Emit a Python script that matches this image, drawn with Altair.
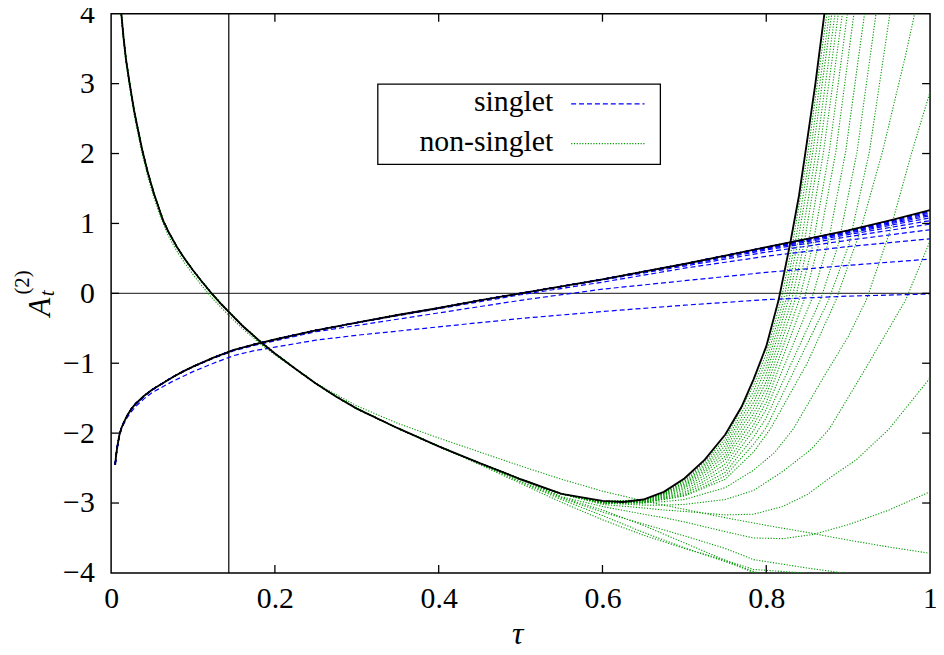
import altair as alt
import pandas as pd

FONT = "Liberation Serif"
BLUE = "#0000ff"
GREEN = "#009a00"

X_TICKS = [0, 0.2, 0.4, 0.6, 0.8, 1]
Y_TICKS = [-4, -3, -2, -1, 0, 1, 2, 3, 4]
VLINE_X = 0.1437
LEGEND_LABELS = ["singlet", "non-singlet"]

# ---------------- singlet (exact, black) ----------------
s_head = [(0.005, -2.45), (0.006, -2.33), (0.0075, -2.2), (0.01, -2.03), (0.0125, -1.93),
          (0.015, -1.86), (0.02, -1.74), (0.025, -1.65), (0.03, -1.58), (0.04, -1.47),
          (0.05, -1.38), (0.0625, -1.29), (0.075, -1.20), (0.0875, -1.12), (0.1, -1.05)]
s_mid = [(0.125, -0.92), (0.15, -0.81), (0.175, -0.73), (0.2, -0.66), (0.25, -0.53), (0.3, -0.42),
         (0.35, -0.31), (0.4, -0.21), (0.45, -0.10), (0.5, 0.0)]
s_tail = [(0.55, 0.10), (0.6, 0.20), (0.65, 0.31), (0.7, 0.42), (0.75, 0.54), (0.8, 0.66),
          (0.85, 0.78), (0.9, 0.90), (0.95, 1.04), (1.0, 1.19)]

# ---------------- singlet truncations (blue dashed) ----------------
b1 = [(0.005, -2.45), (0.006, -2.33), (0.0075, -2.21), (0.01, -2.05), (0.0125, -1.95), (0.015, -1.88),
      (0.02, -1.77), (0.025, -1.69), (0.03, -1.62), (0.04, -1.51), (0.05, -1.42), (0.0625, -1.34),
      (0.075, -1.26), (0.0875, -1.19), (0.1, -1.12), (0.125, -1.0), (0.15, -0.89), (0.175, -0.82),
      (0.2, -0.77), (0.25, -0.67), (0.3, -0.60), (0.4, -0.48), (0.5, -0.36), (0.6, -0.26),
      (0.7, -0.17), (0.8, -0.09), (0.9, -0.04), (1.0, -0.01)]
b2_tail = [(0.125, -0.93), (0.15, -0.82), (0.175, -0.745), (0.2, -0.68), (0.25, -0.55), (0.3, -0.46),
           (0.4, -0.28), (0.5, -0.10), (0.6, 0.06), (0.7, 0.18), (0.8, 0.30), (0.9, 0.40), (1.0, 0.49)]
b3_tail = [(0.4, -0.22), (0.5, -0.02), (0.6, 0.16), (0.7, 0.36), (0.8, 0.53), (0.9, 0.67), (1.0, 0.78)]
b4_tail = [(0.6, 0.19), (0.7, 0.39), (0.8, 0.59), (0.9, 0.76), (1.0, 0.91)]
b5_tail = [(0.7, 0.405), (0.8, 0.62), (0.9, 0.81), (1.0, 0.99)]
b6_tail = [(0.8, 0.635), (0.9, 0.84), (1.0, 1.04)]
b7_tail = [(0.8, 0.645), (0.9, 0.86), (1.0, 1.08)]
b8_tail = [(0.8, 0.652), (0.9, 0.87), (1.0, 1.11)]
b9_tail = [(0.9, 0.88), (1.0, 1.13)]
b10_tail = [(0.9, 0.885), (1.0, 1.15)]
b11_tail = [(0.9, 0.893), (1.0, 1.165)]
b12_tail = [(0.9, 0.897), (1.0, 1.175)]

# ---------------- non-singlet (exact, black) ----------------
ns_head = [(0.0105, 4.35), (0.0125, 4.0), (0.015, 3.68), (0.018, 3.36), (0.0226, 3.0), (0.028, 2.62),
           (0.033, 2.33), (0.038, 2.05), (0.045, 1.72), (0.052, 1.44), (0.06, 1.16), (0.064, 1.03),
           (0.07, 0.88), (0.08, 0.67), (0.09, 0.49), (0.1, 0.33), (0.11, 0.18), (0.1227, 0.0),
           (0.135, -0.16), (0.144, -0.27), (0.16, -0.46), (0.183, -0.70), (0.2, -0.86), (0.225, -1.08),
           (0.25, -1.29), (0.275, -1.48), (0.3, -1.65), (0.35, -1.93), (0.4, -2.19)]
ns_mid = [(0.45, -2.43), (0.5, -2.66), (0.55, -2.87)]
ns_tail = [(0.6, -2.97), (0.625, -2.985), (0.65, -2.95), (0.675, -2.84), (0.7, -2.65),
           (0.725, -2.38), (0.75, -2.02), (0.77, -1.62), (0.7845, -1.23), (0.8, -0.76),
           (0.815, -0.10), (0.829, 0.70), (0.84, 1.40), (0.848, 2.03), (0.86, 3.0),
           (0.871, 4.0), (0.875, 4.4)]

# ---------------- non-singlet truncations (green dotted) ----------------
g1 = [(0.0105, 4.3), (0.0125, 3.96), (0.015, 3.64), (0.018, 3.31), (0.0226, 2.95), (0.028, 2.56),
      (0.033, 2.27), (0.038, 1.99), (0.045, 1.66), (0.052, 1.38), (0.06, 1.10), (0.07, 0.82),
      (0.08, 0.61), (0.09, 0.43), (0.1, 0.27), (0.11, 0.12), (0.1227, -0.06), (0.135, -0.21),
      (0.144, -0.32), (0.16, -0.50), (0.183, -0.73), (0.2, -0.88), (0.25, -1.29), (0.3, -1.61),
      (0.35, -1.86), (0.4, -2.07), (0.45, -2.27), (0.5, -2.47), (0.55, -2.66), (0.6, -2.83),
      (0.65, -2.97), (0.7, -3.09), (0.75, -3.21), (0.8, -3.32), (0.85, -3.42), (0.9, -3.53),
      (0.95, -3.63), (1.0, -3.72)]
g2_tail = [(0.45, -2.44), (0.5, -2.69), (0.55, -2.93), (0.6, -3.13), (0.65, -3.30), (0.7, -3.47),
           (0.75, -3.65), (0.7845, -3.81), (0.85, -3.93), (0.8935, -4.0), (0.93, -4.04)]
g3_tail = [(0.45, -2.45), (0.5, -2.72), (0.55, -2.99), (0.6, -3.24), (0.65, -3.46), (0.7, -3.65),
           (0.75, -3.82), (0.7845, -3.95), (0.845, -4.0), (0.88, -4.03)]
g4_tail = [(0.5, -2.70), (0.55, -2.95), (0.6, -3.18), (0.65, -3.42), (0.7, -3.64), (0.75, -3.84),
           (0.79, -4.0), (0.82, -4.12)]
g5_tail = [(0.55, -2.92), (0.6, -3.10), (0.65, -3.32), (0.7, -3.57), (0.75, -3.82), (0.785, -4.0),
           (0.81, -4.12)]
d1_tail = [(0.6, -2.975), (0.65, -2.955), (0.675, -2.85), (0.7, -2.67), (0.725, -2.41), (0.75, -2.08),
           (0.7845, -1.32), (0.8, -0.86), (0.818, -0.10), (0.832, 0.70), (0.851, 2.03), (0.874, 4.0), (0.878, 4.4)]
d2_tail = [(0.6, -2.98), (0.65, -2.96), (0.675, -2.86), (0.7, -2.69), (0.725, -2.44), (0.75, -2.13),
           (0.7845, -1.40), (0.8, -0.96), (0.821, -0.10), (0.835, 0.70), (0.854, 2.03), (0.877, 4.0), (0.881, 4.4)]
d3_tail = [(0.6, -2.98), (0.65, -2.96), (0.675, -2.865), (0.7, -2.71), (0.725, -2.47), (0.75, -2.18),
           (0.7845, -1.48), (0.8, -1.06), (0.824, -0.10), (0.838, 0.70), (0.857, 2.03), (0.880, 4.0), (0.884, 4.4)]
d4_tail = [(0.6, -2.985), (0.65, -2.965), (0.675, -2.87), (0.7, -2.73), (0.725, -2.50), (0.75, -2.23),
           (0.7845, -1.56), (0.8, -1.16), (0.827, -0.10), (0.842, 0.70), (0.861, 2.03), (0.884, 4.0), (0.888, 4.4)]
d5_tail = [(0.6, -2.99), (0.65, -2.97), (0.675, -2.88), (0.7, -2.75), (0.725, -2.53), (0.75, -2.28),
           (0.7845, -1.64), (0.8, -1.26), (0.831, -0.10), (0.846, 0.70), (0.865, 2.03), (0.888, 4.0), (0.892, 4.4)]
d6_tail = [(0.6, -2.99), (0.65, -2.975), (0.675, -2.89), (0.7, -2.77), (0.725, -2.56), (0.75, -2.33),
           (0.7845, -1.72), (0.8, -1.36), (0.835, -0.10), (0.851, 0.70), (0.870, 2.03), (0.893, 4.0), (0.897, 4.4)]
d7_tail = [(0.6, -2.995), (0.65, -2.98), (0.675, -2.90), (0.7, -2.79), (0.725, -2.60), (0.75, -2.38),
           (0.7845, -1.80), (0.8, -1.46), (0.840, -0.10), (0.857, 0.70), (0.877, 2.03), (0.899, 4.0), (0.903, 4.4)]
d8_tail = [(0.6, -2.995), (0.65, -2.985), (0.675, -2.91), (0.7, -2.82), (0.725, -2.64), (0.75, -2.44),
           (0.7845, -1.88), (0.8, -1.56), (0.846, -0.10), (0.864, 0.70), (0.885, 2.03), (0.907, 4.0), (0.911, 4.4)]
d9_tail = [(0.6, -3.0), (0.65, -2.99), (0.675, -2.92), (0.7, -2.85), (0.725, -2.68), (0.75, -2.50),
           (0.7845, -1.96), (0.8, -1.66), (0.855, -0.10), (0.875, 0.70), (0.897, 2.03), (0.920, 4.0), (0.925, 4.4)]
d10_tail = [(0.6, -3.0), (0.65, -2.995), (0.675, -2.93), (0.7, -2.87), (0.725, -2.72), (0.75, -2.56),
            (0.7845, -2.06), (0.8, -1.78), (0.866, -0.10), (0.888, 0.70), (0.911, 2.03), (0.934, 4.0), (0.939, 4.4)]
d11_tail = [(0.6, -3.0), (0.65, -3.0), (0.675, -2.94), (0.7, -2.89), (0.725, -2.76), (0.75, -2.61),
            (0.7845, -2.16), (0.8, -1.92), (0.876, -0.10), (0.901, 0.70), (0.926, 2.03), (0.951, 4.0), (0.957, 4.4)]
bp_tail = [(0.6, -3.0), (0.65, -2.99), (0.675, -2.95), (0.7, -2.90), (0.75, -2.66), (0.7845, -2.27),
           (0.805, -1.94), (0.85, -1.0), (0.885, -0.10), (0.915, 0.9), (0.942, 2.03), (0.97, 3.4), (0.983, 4.1)]
c_tail = [(0.6, -3.0), (0.65, -3.0), (0.675, -2.98), (0.7, -2.95), (0.75, -2.78), (0.7845, -2.53),
          (0.81, -2.28), (0.833, -1.94), (0.87, -1.2), (0.9, -0.62), (0.922, -0.10), (0.95, 0.85),
          (0.978, 2.03), (1.0, 2.88)]
cd_tail = [(0.6, -3.0), (0.65, -3.03), (0.675, -3.03), (0.7, -3.02), (0.75, -2.95), (0.7845, -2.82),
           (0.82, -2.55), (0.855, -2.23), (0.877, -1.94), (0.92, -1.1), (0.97, -0.10), (1.0, 0.75)]
e_tail = [(0.6, -3.02), (0.65, -3.07), (0.675, -3.10), (0.7, -3.12), (0.75, -3.17), (0.7845, -3.16),
          (0.82, -3.05), (0.85, -2.88), (0.88, -2.62), (0.91, -2.38), (0.95, -1.94), (1.0, -1.21)]
f_tail = [(0.55, -2.91), (0.6, -3.05), (0.65, -3.16), (0.675, -3.21), (0.7, -3.27), (0.75, -3.41),
          (0.7845, -3.50), (0.82, -3.51), (0.857, -3.45), (0.9, -3.31), (0.95, -3.10), (1.0, -2.84)]

exact_curves = {
    "singlet": s_head + s_mid + s_tail,
    "nonsinglet": ns_head + ns_mid + ns_tail,
}
blue_curves = {
    "b1": b1,
    "b2": s_head + b2_tail,
    "b3": s_head + s_mid[:6] + b3_tail,
    "b4": s_head + s_mid + b4_tail,
    "b5": s_head + s_mid + s_tail[:2] + b5_tail,
    "b6": s_head + s_mid + s_tail[:4] + b6_tail,
    "b7": s_head + s_mid + s_tail[:5] + b7_tail,
    "b8": s_head + s_mid + s_tail[:5] + b8_tail,
    "b9": s_head + s_mid + s_tail[:6] + b9_tail,
    "b10": s_head + s_mid + s_tail[:6] + b10_tail,
    "b11": s_head + s_mid + s_tail[:7] + b11_tail,
    "b12": s_head + s_mid + s_tail[:7] + b12_tail,
}
up = ns_head + ns_mid
green_curves = {
    "g1": g1,
    "g2": ns_head + g2_tail,
    "g3": ns_head + g3_tail,
    "g4": ns_head + ns_mid[:1] + g4_tail,
    "g5": ns_head + ns_mid[:2] + g5_tail,
    "d1": up + d1_tail, "d2": up + d2_tail, "d3": up + d3_tail, "d4": up + d4_tail,
    "d5": up + d5_tail, "d6": up + d6_tail, "d7": up + d7_tail, "d8": up + d8_tail,
    "d9": up + d9_tail, "d10": up + d10_tail, "d11": up + d11_tail,
    "bp": up + bp_tail, "c": up + c_tail, "cd": up + cd_tail, "e": up + e_tail,
    "f": ns_head + ns_mid[:2] + f_tail,
}


def table(curves):
    rows = []
    for name, pts in curves.items():
        for i, (x, y) in enumerate(pts):
            rows.append({"curve": name, "x": x, "y": y, "i": i})
    return pd.DataFrame(rows)


W, H = 826, 564
xs = alt.Scale(domain=[0, 1], nice=False, zero=False)
ys = alt.Scale(domain=[-4, 4], nice=False, zero=False)

x_axis = alt.Axis(values=X_TICKS, format="~g", labelPadding=11, title=None,
                  labelFlush=False, labelOverlap=False)
y_axis = alt.Axis(values=Y_TICKS, labelPadding=17, title=None,
                  labelFlush=False, labelOverlap=False)


def X(field="x"):
    return alt.X(f"{field}:Q", scale=xs, axis=x_axis)


def Y(field="y"):
    return alt.Y(f"{field}:Q", scale=ys, axis=y_axis)


greens = alt.Chart(table(green_curves)).mark_line(
    clip=True, color=GREEN, strokeWidth=1.1, strokeDash=[1.2, 1.6]
).encode(x=X(), y=Y(), detail="curve:N", order="i:Q")
blues = alt.Chart(table(blue_curves)).mark_line(
    clip=True, color=BLUE, strokeWidth=1.2, strokeDash=[5, 3]
).encode(x=X(), y=Y(), detail="curve:N", order="i:Q")
blacks = alt.Chart(table(exact_curves)).mark_line(
    clip=True, color="black", strokeWidth=1.9
).encode(x=X(), y=Y(), detail="curve:N", order="i:Q")

zero_line = alt.Chart(pd.DataFrame({"y": [0]})).mark_rule(color="#444444", strokeWidth=1.2).encode(y=Y())
v_line = alt.Chart(pd.DataFrame({"x": [VLINE_X]})).mark_rule(color="black", strokeWidth=1.2).encode(x=X())

xt = pd.DataFrame({"x": X_TICKS[1:-1]})
yt = pd.DataFrame({"y": Y_TICKS[1:-1]})
tick_style = dict(color="black", strokeWidth=1.3)
ticks = [
    alt.Chart(xt).mark_rule(**tick_style).encode(x=X(), y=alt.value(H), y2=alt.value(H - 8)),
    alt.Chart(xt).mark_rule(**tick_style).encode(x=X(), y=alt.value(0), y2=alt.value(8)),
    alt.Chart(yt).mark_rule(**tick_style).encode(y=Y(), x=alt.value(0), x2=alt.value(8)),
    alt.Chart(yt).mark_rule(**tick_style).encode(y=Y(), x=alt.value(W), x2=alt.value(W - 8)),
]

one = pd.DataFrame({"k": [0]})
legend_box = alt.Chart(one).mark_rect(fill="white", stroke="black", strokeWidth=1.3).encode(
    x=alt.value(269), x2=alt.value(554), y=alt.value(71), y2=alt.value(152))
legend_text = [
    alt.Chart(one).mark_text(align="right", baseline="middle", font=FONT, fontSize=30, color="black",
                             text=LEGEND_LABELS[0]).encode(x=alt.value(446), y=alt.value(89)),
    alt.Chart(one).mark_text(align="right", baseline="middle", font=FONT, fontSize=30, color="black",
                             text=LEGEND_LABELS[1]).encode(x=alt.value(446), y=alt.value(129)),
]
legend_lines = [
    alt.Chart(one).mark_rule(color=BLUE, strokeWidth=1.2, strokeDash=[5, 3]).encode(
        x=alt.value(464), x2=alt.value(538), y=alt.value(91)),
    alt.Chart(one).mark_rule(color=GREEN, strokeWidth=1.1, strokeDash=[1.2, 1.6]).encode(
        x=alt.value(464), x2=alt.value(538), y=alt.value(131)),
]

# axis titles
x_title = alt.Chart(one).mark_text(font=FONT, fontSize=32, fontStyle="italic", align="center",
                                   baseline="alphabetic", text="τ").encode(x=alt.value(410), y=alt.value(636))
y_title = [
    alt.Chart(one).mark_text(font=FONT, fontSize=31, fontStyle="italic", align="center", baseline="alphabetic",
                             angle=270, text="A").encode(x=alt.value(-62), y=alt.value(296)),
    alt.Chart(one).mark_text(font=FONT, fontSize=21, fontStyle="italic", align="center", baseline="alphabetic",
                             angle=270, text="t").encode(x=alt.value(-58), y=alt.value(282)),
    alt.Chart(one).mark_text(font=FONT, fontSize=21, align="center", baseline="alphabetic",
                             angle=270, text="(2)").encode(x=alt.value(-83), y=alt.value(271)),
]

chart = alt.layer(
    zero_line, v_line, greens, blues, blacks, *ticks,
    legend_box, *legend_text, *legend_lines, x_title, *y_title,
).properties(
    width=W, height=H,
    autosize=alt.AutoSizeParams(type="none"),
    padding={"left": 104, "top": 3, "right": 6, "bottom": 80},
).configure_axis(
    labelFont=FONT, labelFontSize=30, labelColor="black",
    ticks=False, domain=False, grid=False,
).configure_view(stroke="black", strokeWidth=1.5)

chart.save("out.html", embed_options={"renderer": "svg", "actions": False})
